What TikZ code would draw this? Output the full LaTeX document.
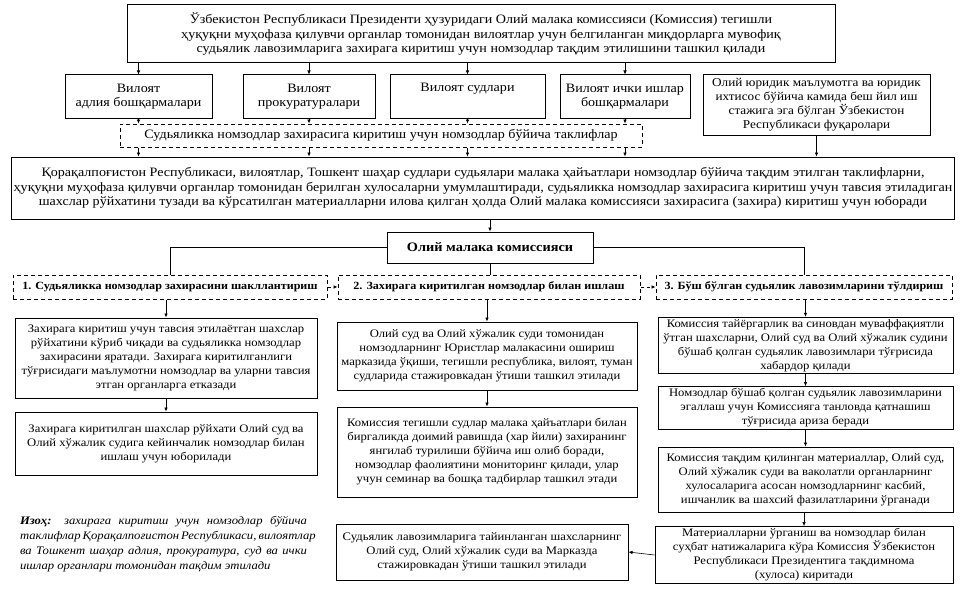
\documentclass[tikz,border=0pt]{standalone}
\usepackage{fontspec}
\setmainfont[FakeStretch=1.1]{Liberation Serif}
\usetikzlibrary{arrows.meta,positioning}

\begin{document}
\begin{tikzpicture}[x=1pt,y=-1pt,
    every node/.style={font=\fontsize{11.5}{14}\selectfont},
    box/.style={draw,line width=1pt,align=center,inner sep=2pt},
    dbox/.style={box,dashed,dash pattern=on 4pt off 3pt},
    big/.style={font=\fontsize{12.8}{14.5}\selectfont},
    head/.style={dbox,font=\bfseries\fontsize{11}{14}\selectfont,
                 minimum height=24pt},
    arr/.style={line width=0.6pt,-{Latex[length=4pt,width=3.5pt]}},
    link/.style={line width=0.6pt}]
  \useasboundingbox (0,0) rectangle (961,594);

  \node[box,big,minimum width=708pt,minimum height=58pt] (top) at (481,34)
    {Ўзбекистон Республикаси Президенти ҳузуридаги Олий малака комиссияси (Комиссия) тегишли\\
     ҳуқуқни муҳофаза қилувчи органлар томонидан вилоятлар учун белгиланган миқдорларга мувофиқ\\
     судьялик лавозимларига захирага киритиш учун номзодлар тақдим этилишини ташкил қилади};

  % viloyat organlari
  \node[box,big,minimum width=147pt,minimum height=43pt] (adl) at (138.5,96.5)
    {Вилоят\\адлия бошқармалари};
  \node[box,big,minimum width=132pt,minimum height=43pt] (prok) at (309,96.5)
    {Вилоят\\прокуратуралари};
  \node[box,big,minimum width=155pt,minimum height=43pt] (sud) at (467.5,96.5)
    {Вилоят судлари\\ \strut};
  \node[box,big,minimum width=130pt,minimum height=43pt] (ichki) at (625,96.5)
    {Вилоят ички ишлар\\бошқармалари};
  \node[box,font=\fontsize{12}{14}\selectfont,minimum width=227pt,minimum height=60pt]
    (fuq) at (816.5,105)
    {Олий юридик маълумотга ва юридик\\ихтисос бўйича камида беш йил иш\\
     стажига эга бўлган Ўзбекистон\\Республикаси фуқаролари};

  \node[dbox,big,minimum width=522pt,minimum height=23pt] (taklif) at (381,135.5)
    {Судьяликка номзодлар захирасига киритиш учун номзодлар бўйича таклифлар};

  \node[box,big,minimum width=940pt,minimum height=62pt] (umum) at (483,188)
    {Қорақалпоғистон Республикаси, вилоятлар, Тошкент шаҳар судлари судьялари малака ҳайъатлари номзодлар бўйича тақдим этилган таклифларни,\\
     ҳуқуқни муҳофаза қилувчи органлар томонидан берилган хулосаларни умумлаштиради, судьяликка номзодлар захирасига киритиш учун тавсия этиладиган\\
     шахслар рўйхатини тузади ва кўрсатилган материалларни илова қилган ҳолда Олий малака комиссияси захирасига (захира) киритиш учун юборади};

  \node[box,font=\bfseries\fontsize{13}{14}\selectfont,minimum width=206pt,
        minimum height=31pt] (kom) at (490,247.5) {Олий малака комиссияси};

  % uch yo'nalish
  \node[head,minimum width=314pt] (h1) at (170,287)
    {1. Судьяликка номзодлар захирасини шакллантириш};
  \node[head,minimum width=302pt] (h2) at (489,287)
    {2. Захирага киритилган номзодлар билан ишлаш};
  \node[head,minimum width=296pt] (h3) at (804,287)
    {3. Бўш бўлган судьялик лавозимларини тўлдириш};

  \node[box,minimum width=302pt,minimum height=80pt] (a1) at (166,358)
    {Захирага киритиш учун тавсия этилаётган шахслар\\
     рўйхатини кўриб чиқади ва судьяликка номзодлар\\
     захирасини яратади. Захирага киритилганлиги\\
     тўғрисидаги маълумотни номзодлар ва уларни тавсия\\
     этган органларга етказади};
  \node[box,minimum width=302pt,minimum height=63pt] (a2) at (166,443.5)
    {Захирага киритилган шахслар рўйхати Олий суд ва\\
     Олий хўжалик судига кейинчалик номзодлар билан\\
     ишлаш учун юборилади};

  \node[font=\itshape\fontsize{11.5}{15}\selectfont,align=left,inner sep=0pt]
    (izoh) at (163.5,544)
    {\makebox[287pt][s]{\textbf{Изоҳ:} захирага киритиш учун номзодлар бўйича}\\
     \makebox[287pt][s]{таклифлар Қорақалпоғистон Республикаси, вилоятлар}\\
     \makebox[287pt][s]{ва Тошкент шаҳар адлия, прокуратура, суд ва ички}\\
     \makebox[287pt][l]{ишлар органлари томонидан тақдим этилади}};

  \node[box,minimum width=300pt,minimum height=68pt] (b1) at (487,356)
    {Олий суд ва Олий хўжалик суди томонидан\\
     номзодларнинг Юристлар малакасини ошириш\\
     марказида ўқиши, тегишли республика, вилоят, туман\\
     судларида стажировкадан ўтиши ташкил этилади};
  \node[box,minimum width=300pt,minimum height=90pt] (b2) at (487,452)
    {Комиссия тегишли судлар малака ҳайъатлари билан\\
     биргаликда доимий равишда (хар йили) захиранинг\\
     янгилаб турилиши бўйича иш олиб боради,\\
     номзодлар фаолиятини мониторинг қилади, улар\\
     учун семинар ва бошқа тадбирлар ташкил этади};
  \node[box,minimum width=292pt,minimum height=56pt] (b3) at (482,552)
    {Судьялик лавозимларига тайинланган шахсларнинг\\
     Олий суд, Олий хўжалик суди ва Марказда\\
     стажировкадан ўтиши ташкил этилади};

  \node[box,minimum width=295pt,minimum height=55pt] (c1) at (805.5,345.5)
    {Комиссия тайёргарлик ва синовдан муваффақиятли\\
     ўтган шахсларни, Олий суд ва Олий хўжалик судини\\
     бўшаб қолган судьялик лавозимлари тўғрисида\\
     хабардор қилади};
  \node[box,minimum width=295pt,minimum height=40pt] (c2) at (805.5,408)
    {Номзодлар бўшаб қолган судьялик лавозимларини\\
     эгаллаш учун Комиссияга танловда қатнашиш\\
     тўғрисида ариза беради};
  \node[box,minimum width=295pt,minimum height=65pt] (c3) at (805.5,479.5)
    {Комиссия тақдим қилинган материаллар, Олий суд,\\
     Олий хўжалик суди ва ваколатли органларнинг\\
     хулосаларига асосан номзодларнинг касбий,\\
     ишчанлик ва шахсий фазилатларини ўрганади};
  \node[box,minimum width=298pt,minimum height=56pt] (c4) at (804,555)
    {Материалларни ўрганиш ва номзодлар билан\\
     суҳбат натижаларига кўра Комиссия Ўзбекистон\\
     Республикаси Президентига тақдимнома\\
     (хулоса) киритади};

  % ulanishlar
  \draw[arr] (top.south -| adl.north) -- (adl.north);
  \draw[arr] (top.south -| prok.north) -- (prok.north);
  \draw[arr] (top.south -| sud.north) -- (sud.north);
  \draw[arr] (top.south -| ichki.north) -- (ichki.north);
  \draw[arr] (adl.south) -- (taklif.north -| adl.south);
  \draw[arr] (prok.south) -- (taklif.north -| prok.south);
  \draw[arr] (sud.south) -- (taklif.north -| sud.south);
  \draw[arr] (ichki.south) -- (taklif.north -| ichki.south);
  \draw[arr] (taklif.south -| adl.south) -- (umum.north -| adl.south);
  \draw[arr] (taklif.south -| prok.south) -- (umum.north -| prok.south);
  \draw[arr] (taklif.south -| sud.south) -- (umum.north -| sud.south);
  \draw[arr] (taklif.south -| ichki.south) -- (umum.north -| ichki.south);
  \draw[arr] (fuq.south) -- (umum.north -| fuq.south);
  \draw[arr] (umum.south -| kom.north) -- (kom.north);

  \draw[link] (kom.west) -| (h1.north);
  \draw[link] (kom.south) -- (h2.north -| kom.south);
  \draw[link] (kom.east) -| (h3.north);
  \draw[arr,dashed] (h1.east) -- (h2.west);
  \draw[arr,dashed] (h2.east) -- (h3.west);

  \draw[arr] (h1.south -| a1.north) -- (a1.north);
  \draw[arr] (a1.south) -- (a2.north);
  \draw[arr] (h2.south -| b1.north) -- (b1.north);
  \draw[arr] (b1.south) -- (b2.north);
  \draw[arr] (h3.south -| c1.north) -- (c1.north);
  \draw[arr] (c1.south) -- (c2.north);
  \draw[arr] (c2.south) -- (c3.north);
  \draw[arr] (c3.south -| c4.north) -- (c4.north);
  \draw[arr] (c4.west) -- (b3.east);
\end{tikzpicture}
\end{document}
